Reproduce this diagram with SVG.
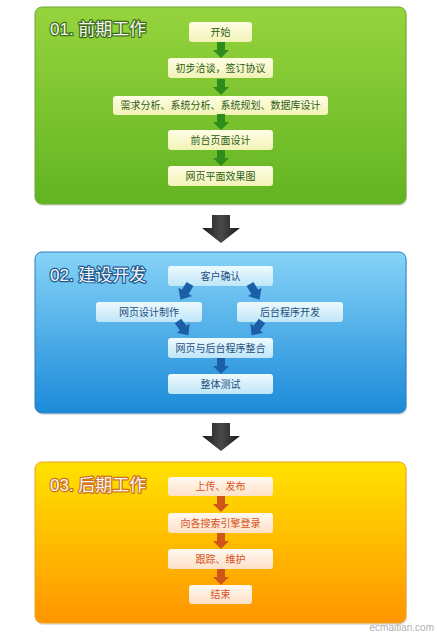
<svg xmlns="http://www.w3.org/2000/svg" width="437" height="632" viewBox="0 0 437 632">
<defs>
<linearGradient id="gGreen" x1="0" y1="0" x2="0" y2="1"><stop offset="0" stop-color="#96d43e"/><stop offset="1" stop-color="#62b422"/></linearGradient>
<linearGradient id="gBlue" x1="0" y1="0" x2="0" y2="1"><stop offset="0" stop-color="#86d3f7"/><stop offset="1" stop-color="#1c8ad9"/></linearGradient>
<linearGradient id="gOrange" x1="0" y1="0" x2="0" y2="1"><stop offset="0" stop-color="#ffe200"/><stop offset="1" stop-color="#ff9500"/></linearGradient>
<linearGradient id="bGreen" x1="0" y1="0" x2="0" y2="1"><stop offset="0" stop-color="#fffee6"/><stop offset="1" stop-color="#f1f3b6"/></linearGradient>
<linearGradient id="bBlue" x1="0" y1="0" x2="0" y2="1"><stop offset="0" stop-color="#eefaff"/><stop offset="1" stop-color="#bfe6f7"/></linearGradient>
<linearGradient id="bOrange" x1="0" y1="0" x2="0" y2="1"><stop offset="0" stop-color="#fff8f0"/><stop offset="1" stop-color="#fde1c8"/></linearGradient>
<linearGradient id="gDark" x1="0" y1="0" x2="1" y2="0"><stop offset="0" stop-color="#1a1a1a"/><stop offset="0.5" stop-color="#4a4a4a"/><stop offset="1" stop-color="#1a1a1a"/></linearGradient>
<path id="arr" d="M-4,0 H4 V8 H8 L0,16 L-8,8 H-4 Z"/>
<path id="big" d="M-9,0 H9 V13 H19 L0,28 L-19,13 H-9 Z"/>
</defs>
<style>
.panel{stroke-width:1}
.title{font-family:"Liberation Sans","Noto Sans CJK SC",sans-serif;font-size:17px;fill:#f4f4f4;stroke-width:2.4px;paint-order:stroke;stroke-linejoin:round}
.lbl{font-family:"Liberation Sans","Noto Sans CJK SC",sans-serif;font-size:10px;text-anchor:middle}
.g .box{fill:url(#bGreen)} .g .lbl{fill:#2f5c14}
.b .box{fill:url(#bBlue)} .b .lbl{fill:#1f4f80}
.o .box{fill:url(#bOrange)} .o .lbl{fill:#d8531c}
.shadow{fill:#000;opacity:0.12}
</style>
<rect width="437" height="632" fill="#ffffff"/>

<!-- panels -->
<g id="panel1">
<rect x="36" y="9" width="371" height="197" rx="7" class="shadow"/>
<rect x="35" y="7" width="371" height="197" rx="7" fill="url(#gGreen)" stroke="#6ea632" class="panel"/>
<text x="50" y="35" class="title" stroke="#3c6e16">01. 前期工作</text>
</g>
<g id="panel2">
<rect x="36" y="254" width="371" height="161" rx="7" class="shadow"/>
<rect x="35" y="252" width="371" height="161" rx="7" fill="url(#gBlue)" stroke="#2a7cc0" class="panel"/>
<text x="50" y="281" class="title" stroke="#1d5a92">02. 建设开发</text>
</g>
<g id="panel3">
<rect x="36" y="464" width="371" height="161" rx="7" class="shadow"/>
<rect x="35" y="462" width="371" height="161" rx="7" fill="url(#gOrange)" stroke="#f0a020" class="panel"/>
<text x="50" y="491" class="title" stroke="#d0701a">03. 后期工作</text>
</g>

<!-- panel 1 nodes -->
<g class="g">
<g id="n-start"><rect class="box" x="189" y="22" width="63" height="20" rx="3"/><text class="lbl" x="220.5" y="35.5">开始</text></g>
<g id="n-talk"><rect class="box" x="168" y="58" width="105" height="20" rx="3"/><text class="lbl" x="220.5" y="71.5">初步洽谈，签订协议</text></g>
<g id="n-analysis"><rect class="box" x="113" y="96" width="215" height="19" rx="3"/><text class="lbl" x="220.5" y="109">需求分析、系统分析、系统规划、数据库设计</text></g>
<g id="n-frontdesign"><rect class="box" x="168" y="130" width="105" height="20" rx="3"/><text class="lbl" x="220.5" y="143.5">前台页面设计</text></g>
<g id="n-mockup"><rect class="box" x="168" y="166" width="105" height="20" rx="3"/><text class="lbl" x="220.5" y="179.5">网页平面效果图</text></g>
</g>

<!-- panel 2 nodes -->
<g class="b">
<g id="n-confirm"><rect class="box" x="168" y="266" width="105" height="20" rx="3"/><text class="lbl" x="220.5" y="279.5">客户确认</text></g>
<g id="n-webdesign"><rect class="box" x="96" y="302" width="106" height="20" rx="3"/><text class="lbl" x="149" y="315.5">网页设计制作</text></g>
<g id="n-backend"><rect class="box" x="237" y="302" width="106" height="20" rx="3"/><text class="lbl" x="290" y="315.5">后台程序开发</text></g>
<g id="n-integrate"><rect class="box" x="168" y="338" width="105" height="20" rx="3"/><text class="lbl" x="220.5" y="351.5">网页与后台程序整合</text></g>
<g id="n-test"><rect class="box" x="168" y="374" width="105" height="20" rx="3"/><text class="lbl" x="220.5" y="387.5">整体测试</text></g>
</g>

<!-- panel 3 nodes -->
<g class="o">
<g id="n-upload"><rect class="box" x="168" y="477" width="105" height="19" rx="3"/><text class="lbl" x="220.5" y="490">上传、发布</text></g>
<g id="n-seo"><rect class="box" x="168" y="513" width="105" height="20" rx="3"/><text class="lbl" x="220.5" y="526.5">向各搜索引擎登录</text></g>
<g id="n-maintain"><rect class="box" x="168" y="549" width="105" height="20" rx="3"/><text class="lbl" x="220.5" y="562.5">跟踪、维护</text></g>
<g id="n-end"><rect class="box" x="189" y="585" width="63" height="19" rx="3"/><text class="lbl" x="220.5" y="598">结束</text></g>
</g>

<!-- connectors -->
<g id="connectors">
<g fill="#2e8c1c">
<use href="#arr" transform="translate(221,42)"/>
<use href="#arr" transform="translate(221,79)"/>
<use href="#arr" transform="translate(221,114)"/>
<use href="#arr" transform="translate(221,150)"/>
</g>
<g fill="#1d5ea8">
<use href="#arr" transform="translate(190,284) rotate(31) scale(1,1.15)"/>
<use href="#arr" transform="translate(250,284) rotate(-31) scale(1,1.15)"/>
<use href="#arr" transform="translate(178,321) rotate(-36) scale(1,1.1)"/>
<use href="#arr" transform="translate(262,321) rotate(36) scale(1,1.1)"/>
<use href="#arr" transform="translate(221,358)"/>
</g>
<g fill="#d05518">
<use href="#arr" transform="translate(221,496)"/>
<use href="#arr" transform="translate(221,533)"/>
<use href="#arr" transform="translate(221,569)"/>
</g>
<g fill="url(#gDark)">
<use href="#big" transform="translate(221,215)"/>
<use href="#big" transform="translate(221,423)"/>
</g>
</g>

<text x="434" y="631" text-anchor="end" font-family="'Liberation Sans',sans-serif" font-size="10" fill="#b0b0b0">ecmaitian.com</text>
</svg>
